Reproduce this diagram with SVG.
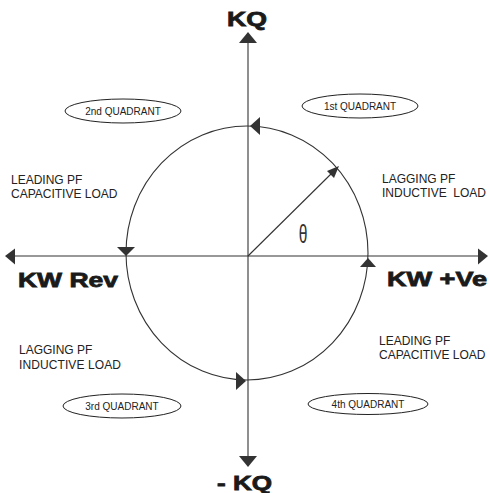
<svg xmlns="http://www.w3.org/2000/svg" width="490" height="493" viewBox="0 0 490 493">
<style>
.ln{stroke:#333;stroke-width:1.1;fill:none}
.ah{fill:#333;stroke:none}
.q{fill:#fff;stroke:#222;stroke-width:1}
.qt{font-family:"Liberation Sans",Arial,sans-serif;font-size:10px;fill:#222;text-anchor:middle}
.lb{font-family:"Liberation Sans",Arial,sans-serif;font-size:12px;fill:#222}
.big{font-family:"Liberation Sans",Arial,sans-serif;font-size:20px;font-weight:bold;fill:#1a1a1a;stroke:#1a1a1a;stroke-width:0.8}
</style>
<rect width="490" height="493" fill="#fff"/>
<g id="connectors">
  <line class="ln" x1="248" y1="40" x2="248" y2="459"/>
  <line class="ln" x1="13" y1="256" x2="480" y2="256"/>
  <ellipse class="ln" cx="247" cy="253" rx="121" ry="127"/>
  <line class="ln" x1="248" y1="256" x2="333" y2="172"/>
  <polygon class="ah" points="248,32 239,43 257,43"/>
  <polygon class="ah" points="248,467 239,456 257,456"/>
  <polygon class="ah" points="5,256 15,248.5 15,264.5"/>
  <polygon class="ah" points="488,256 478,248.5 478,264.5"/>
  <polygon class="ah" points="250,126 260,117 260,135"/>
  <polygon class="ah" points="246,381 236,372 236,390"/>
  <polygon class="ah" points="126,256 117,247 135,247"/>
  <polygon class="ah" points="368,258 360,267 376,267"/>
  <polygon class="ah" points="339,166 334,178 327,171"/>
</g>
<g id="theta"><text x="303" y="243" font-family="Liberation Sans,sans-serif" font-size="26" fill="#333" text-anchor="middle" transform="translate(303 0) scale(0.6 1) translate(-303 0)">θ</text></g>
<g id="kq-top"><text class="big" x="227" y="26" textLength="40" lengthAdjust="spacingAndGlyphs">KQ</text></g>
<g id="kq-bottom"><text class="big" x="217" y="490" textLength="55" lengthAdjust="spacingAndGlyphs">- KQ</text></g>
<g id="kw-rev"><text class="big" x="18" y="287" textLength="100" lengthAdjust="spacingAndGlyphs">KW Rev</text></g>
<g id="kw-ve"><text class="big" x="387" y="286" textLength="100" lengthAdjust="spacingAndGlyphs">KW  +Ve</text></g>
<g id="q1"><ellipse class="q" cx="360" cy="106" rx="58" ry="12"/><text class="qt" x="360" y="110">1st QUADRANT</text></g>
<g id="q2"><ellipse class="q" cx="123" cy="111" rx="58" ry="12"/><text class="qt" x="123" y="115">2nd QUADRANT</text></g>
<g id="q3"><ellipse class="q" cx="122" cy="406" rx="59" ry="12"/><text class="qt" x="122" y="410">3rd QUADRANT</text></g>
<g id="q4"><ellipse class="q" cx="368" cy="404" rx="60" ry="10.5"/><text class="qt" x="368" y="408">4th QUADRANT</text></g>
<g id="lbl-q1"><text class="lb" x="382" y="183">LAGGING PF</text><text class="lb" x="382" y="197" xml:space="preserve">INDUCTIVE  LOAD</text></g>
<g id="lbl-q2"><text class="lb" x="11" y="184">LEADING PF</text><text class="lb" x="11" y="198">CAPACITIVE LOAD</text></g>
<g id="lbl-q3"><text class="lb" x="19" y="354">LAGGING PF</text><text class="lb" x="19" y="369" textLength="102">INDUCTIVE LOAD</text></g>
<g id="lbl-q4"><text class="lb" x="379" y="345">LEADING PF</text><text class="lb" x="379" y="359">CAPACITIVE LOAD</text></g>
</svg>
